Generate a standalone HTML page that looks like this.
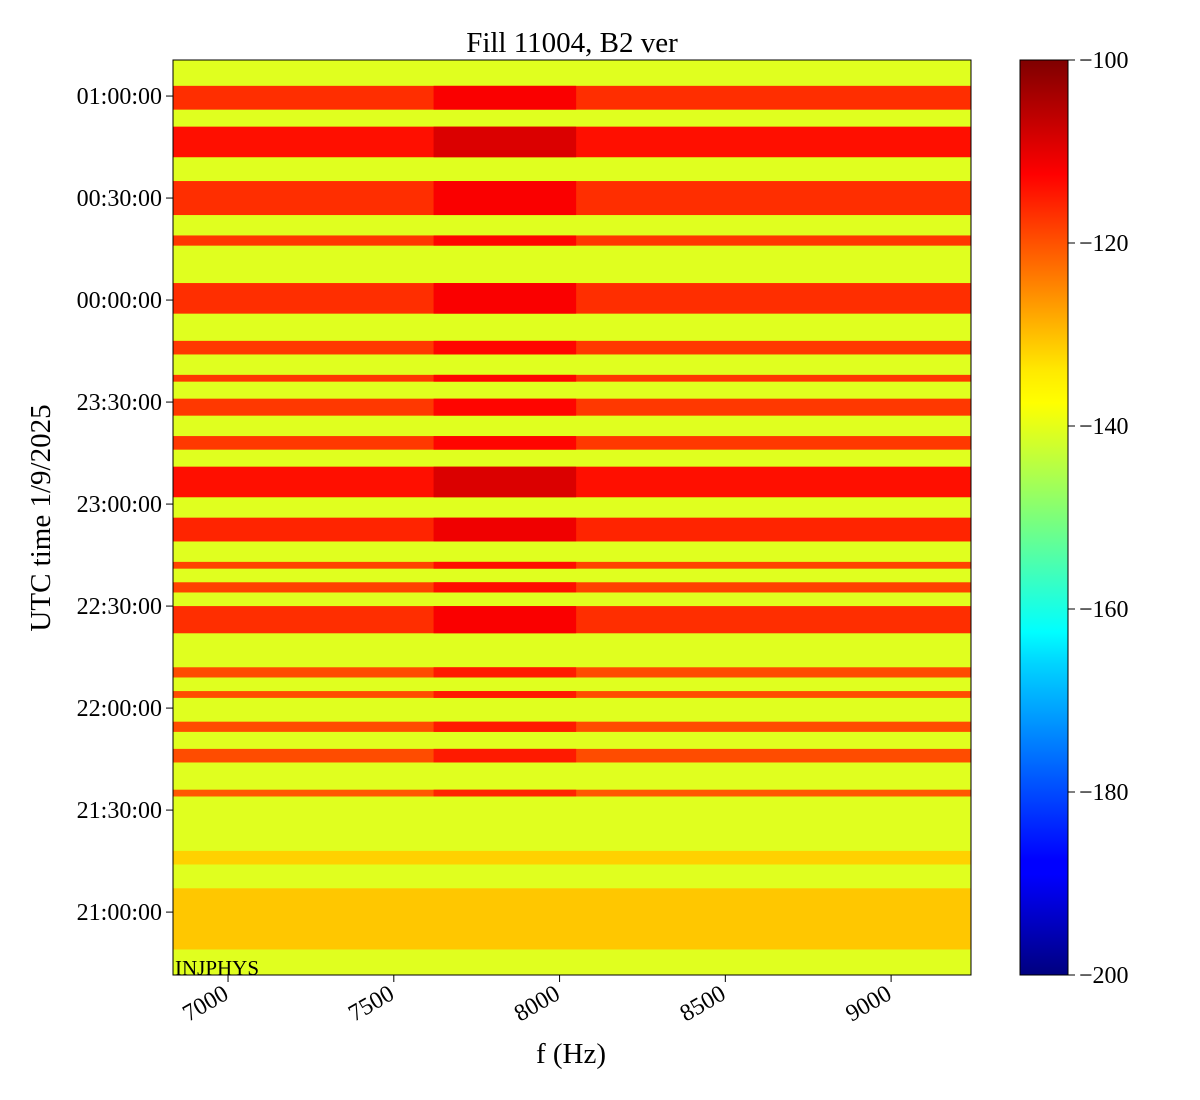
<!DOCTYPE html>
<html><head><meta charset="utf-8"><style>
html,body{margin:0;padding:0;background:#fff}
svg{display:block;font-family:"Liberation Serif",serif}
</style></head><body>
<svg id="chart" width="1200" height="1100" viewBox="0 0 1200 1100" xmlns="http://www.w3.org/2000/svg">
<defs>
<linearGradient id="jetbar" x1="0" y1="1" x2="0" y2="0">
<stop offset="0" stop-color="#00007f"/><stop offset="0.11" stop-color="#0000ff"/>
<stop offset="0.125" stop-color="#0000ff"/><stop offset="0.34" stop-color="#00d4ff"/>
<stop offset="0.375" stop-color="#00ffff"/><stop offset="0.5" stop-color="#7dff7a"/>
<stop offset="0.625" stop-color="#ffff00"/><stop offset="0.66" stop-color="#ffea00"/>
<stop offset="0.875" stop-color="#ff0000"/><stop offset="1" stop-color="#7f0000"/>
</linearGradient>
<clipPath id="plotclip"><rect x="173" y="60" width="798" height="915"/></clipPath>
</defs>
<g id="plot" clip-path="url(#plotclip)"></g>
<rect x="173" y="60" width="798" height="915" fill="none" stroke="#000" stroke-width="1"/>
<text x="572" y="52" font-size="29" text-anchor="middle">Fill 11004, B2 ver</text>
<text x="175" y="975" font-size="21">INJPHYS</text>
<text x="571" y="1063" font-size="29" text-anchor="middle">f (Hz)</text>
<text transform="translate(50,518) rotate(-90)" font-size="29" text-anchor="middle">UTC time 1/9/2025</text>
<rect x="1020" y="60" width="48" height="915" fill="url(#jetbar)" stroke="#000" stroke-width="1"/>
<g id="axes"></g>
</svg>
<script>
// frequency axis (Hz), time axis (minutes relative to 21:00)
const xDomain = [6834, 9241];
const yDomain = [-18.5, 250.6];
const xTicks = [7000, 7500, 8000, 8500, 9000];
const yTicks = [0, 30, 60, 90, 120, 150, 180, 210, 240];
const yTickLabels = ["21:00:00","21:30:00","22:00:00","22:30:00","23:00:00","23:30:00","00:00:00","00:30:00","01:00:00"];
const cbTicks = [-100, -120, -140, -160, -180, -200];
const cbDomain = [-200, -100];
const backgroundLevel = -140.5;
// bands: start minute, end minute, level (dB)
const bandStart = [236,222,205,196,176,164,156,146,136,122,109,101,94,82,69,63,53,44,34,14,-11];
const bandEnd   = [243,231,215,199,185,168,158,151,140,131,116,103,97,90,72,65,56,48,36,18,7];
const bandLevel = [-117,-114,-117,-118,-117,-118,-118,-118,-118,-114,-116,-119,-119,-117,-120,-120,-120,-120,-121,-133,-132];
// peak region in frequency with extra power
const peakFreq = [7620, 8050];
const peakBoost = 5;

const X = v => 173 + (v - xDomain[0]) / (xDomain[1] - xDomain[0]) * 798;
const Y = m => 975 - (m - yDomain[0]) / (yDomain[1] - yDomain[0]) * 915;
const CB = v => 975 - (v - cbDomain[0]) / (cbDomain[1] - cbDomain[0]) * 915;
function jet(db){
  let x=(db-cbDomain[0])/(cbDomain[1]-cbDomain[0]);
  const c=t=>Math.round(255*Math.max(0,Math.min(1,t)));
  return `rgb(${c(1.5-Math.abs(4*x-3))},${c(1.5-Math.abs(4*x-2))},${c(1.5-Math.abs(4*x-1))})`;
}
const NS="http://www.w3.org/2000/svg";
function mk(tag,attrs,parent){const e=document.createElementNS(NS,tag);for(const k in attrs)e.setAttribute(k,attrs[k]);parent.appendChild(e);return e;}
const plot=document.getElementById('plot'), axes=document.getElementById('axes');
const bg=mk('rect',{x:173,y:60,width:798,height:915,fill:jet(backgroundLevel)},plot);


for(let i=0;i<bandStart.length;i++){
  const y0=Y(bandEnd[i]), y1=Y(bandStart[i]);
  const r=mk('rect',{x:173,y:y0,width:798,height:y1-y0,fill:jet(bandLevel[i])},plot);
  
  
  if(bandLevel[i]>-125){
    const p=mk('rect',{x:X(peakFreq[0]),y:y0,width:X(peakFreq[1])-X(peakFreq[0]),height:y1-y0,fill:jet(bandLevel[i]+peakBoost)},plot);
    
    
  }
}
xTicks.forEach(v=>{
  const x=X(v);
  mk('line',{x1:x,y1:975,x2:x,y2:982,stroke:'#000'},axes);
  const t=mk('text',{x:x+2,y:998,'font-size':24,'text-anchor':'end',transform:`rotate(-30 ${x+2} 998)`},axes);
  t.textContent=v;
  
  
});
yTicks.forEach((v,i)=>{
  const y=Y(v);
  mk('line',{x1:166,y1:y,x2:173,y2:y,stroke:'#000'},axes);
  const t=mk('text',{x:162,y:y+8,'font-size':24,'text-anchor':'end'},axes);
  t.textContent=yTickLabels[i];
  
  
});
cbTicks.forEach(v=>{
  const y=CB(v);
  mk('line',{x1:1068,y1:y,x2:1075,y2:y,stroke:'#000'},axes);
  const t=mk('text',{x:1079,y:y+8,'font-size':24},axes);
  t.textContent='\u2212'+Math.abs(v);
  
  
});
</script>
</body></html>
